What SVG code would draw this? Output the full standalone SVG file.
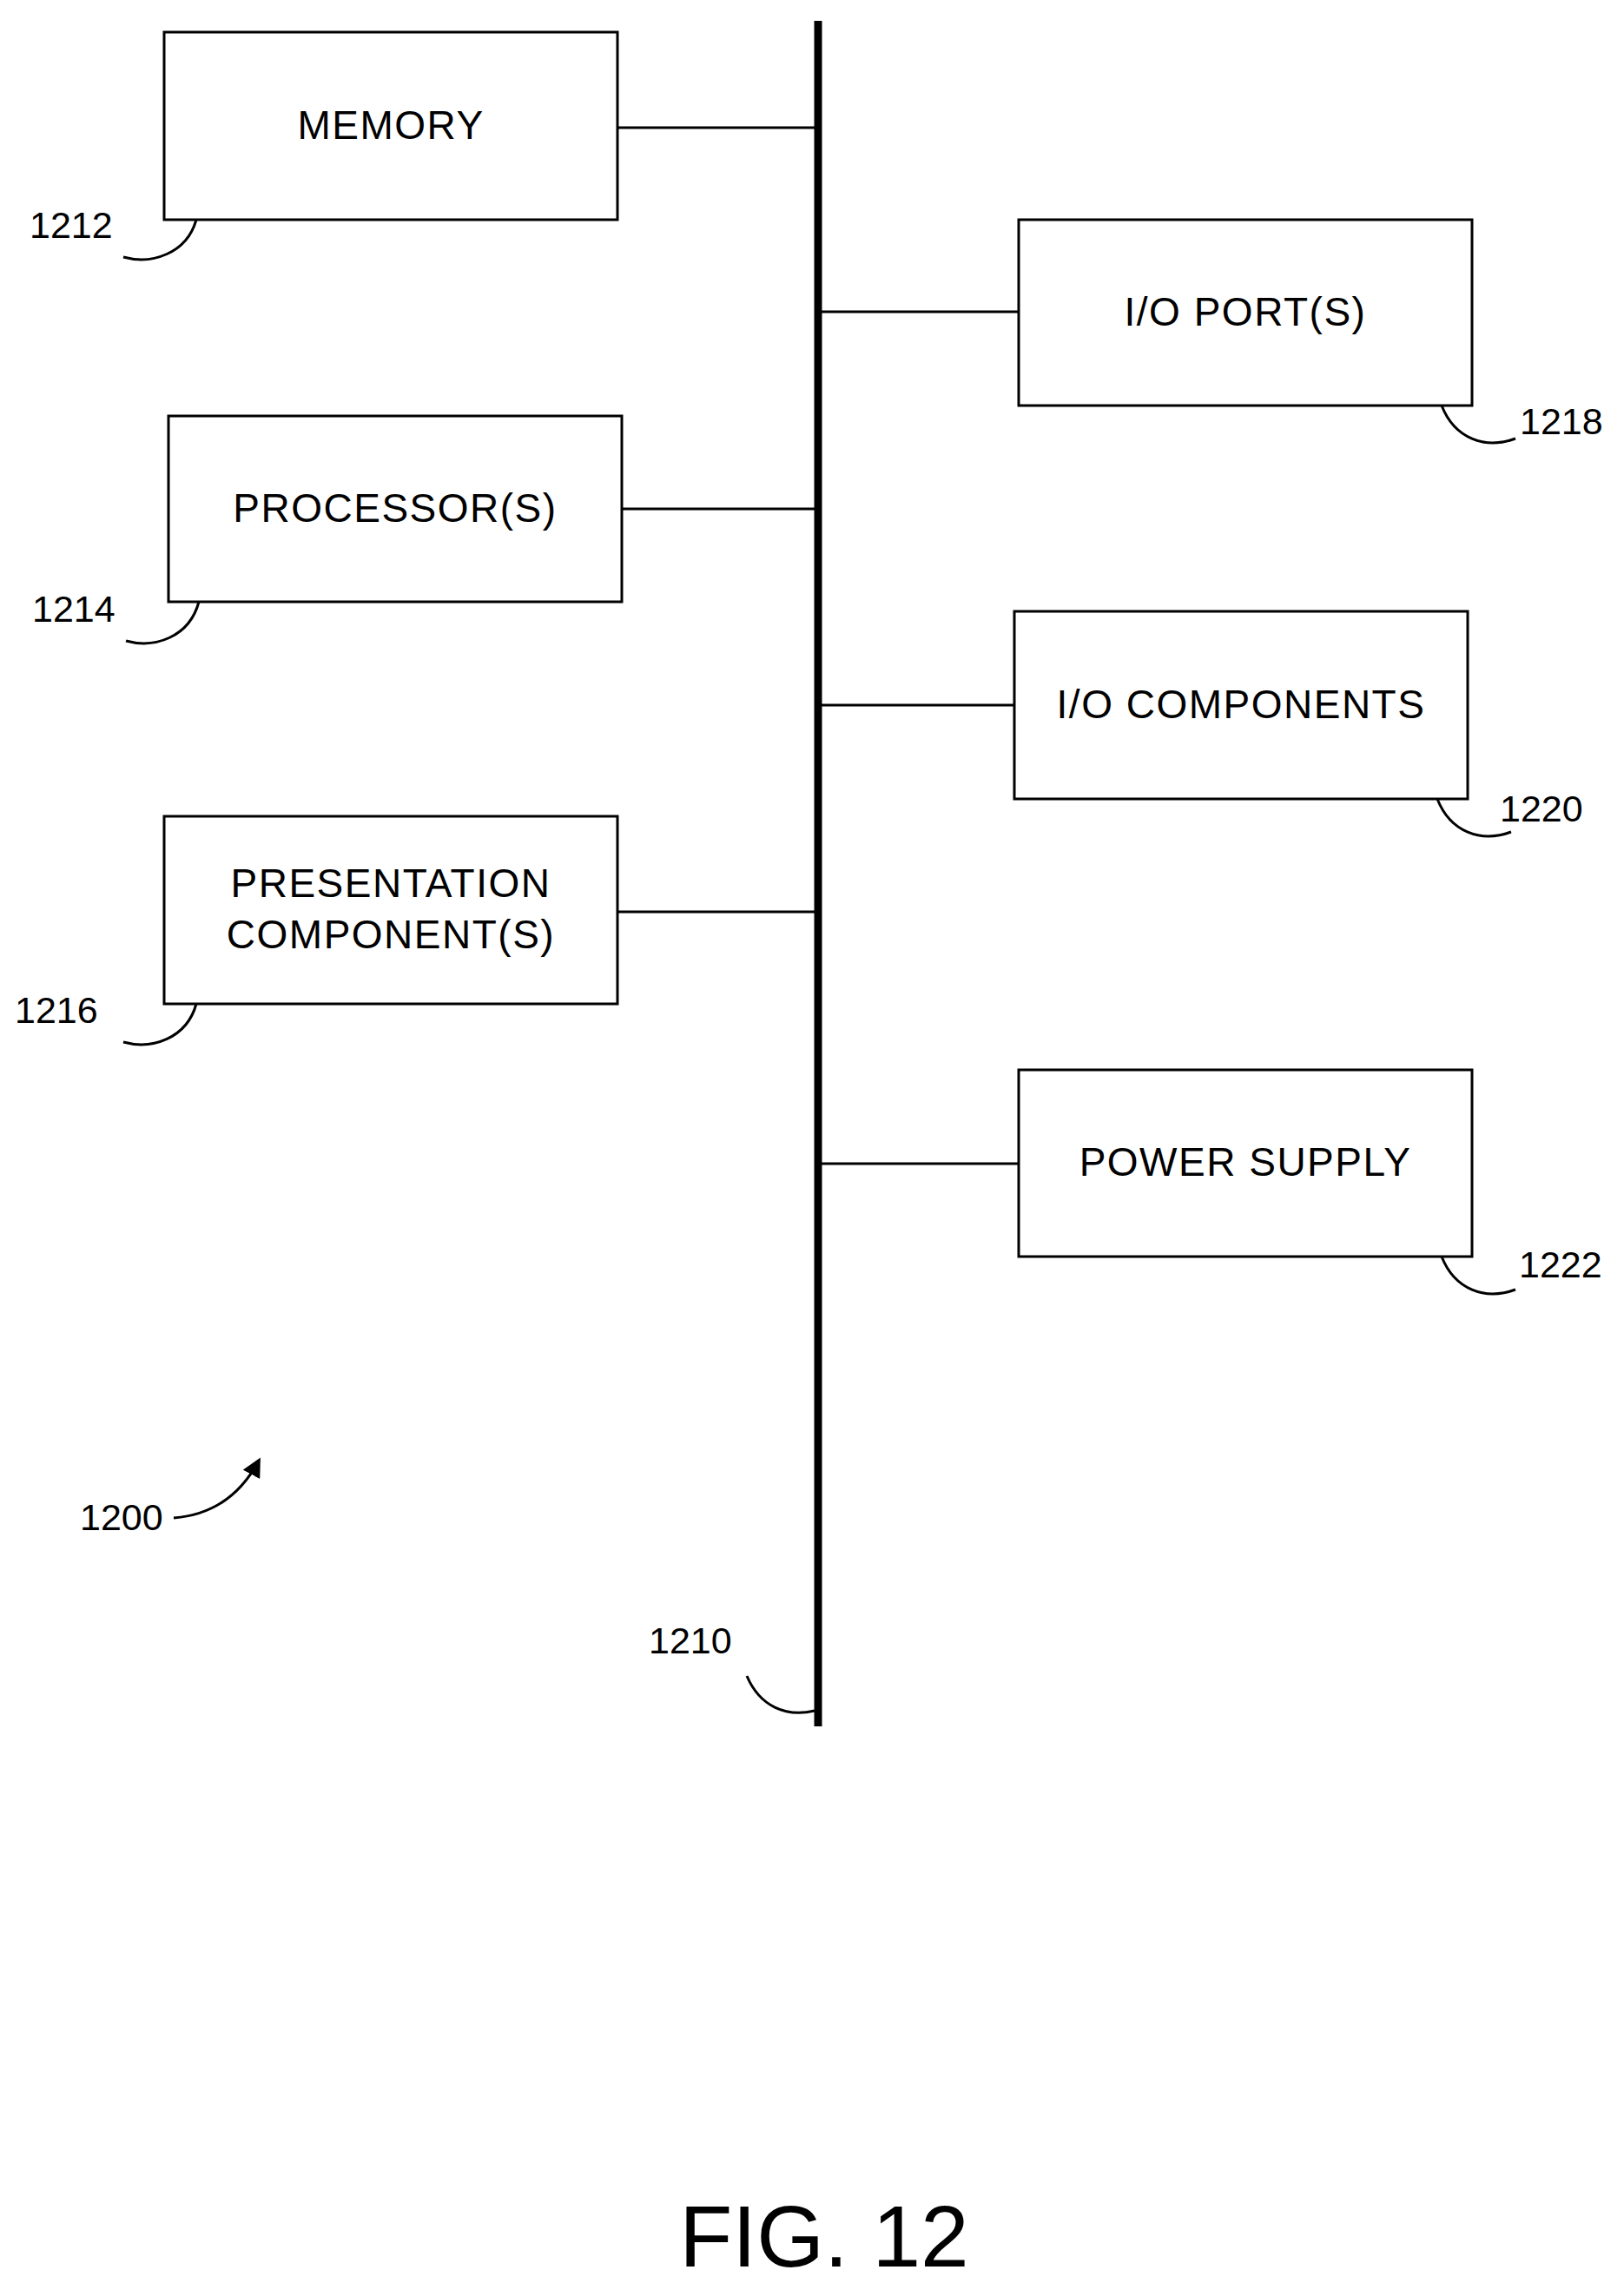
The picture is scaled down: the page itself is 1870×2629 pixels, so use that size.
<svg xmlns="http://www.w3.org/2000/svg" width="1870" height="2629" viewBox="0 0 1870 2629">
<style>
.box{fill:#fff;stroke:#000;stroke-width:3}
.t{font-family:"Liberation Sans",Arial,sans-serif;font-size:46px;letter-spacing:1.5px;text-anchor:middle}
.n{font-family:"Liberation Sans",Arial,sans-serif;font-size:43px}
.c{fill:none;stroke:#000;stroke-width:3}
</style>
<defs><marker id="ah" markerWidth="22" markerHeight="22" refX="18" refY="11" orient="auto" markerUnits="userSpaceOnUse" viewBox="0 0 22 22"><path d="M0,0 L22,11 L0,22 z"/></marker></defs>
<rect width="1870" height="2629" fill="#fff"/>
<g id="connectors">
<line x1="942" y1="24" x2="942" y2="1988" stroke="#000" stroke-width="9"/>
<line class="c" x1="711" y1="147" x2="942" y2="147"/>
<line class="c" x1="716" y1="586" x2="942" y2="586"/>
<line class="c" x1="711" y1="1050" x2="942" y2="1050"/>
<line class="c" x1="942" y1="359" x2="1173" y2="359"/>
<line class="c" x1="942" y1="812" x2="1168" y2="812"/>
<line class="c" x1="942" y1="1340" x2="1173" y2="1340"/>
</g>
<g id="memory"><rect class="box" x="189" y="37" width="522" height="216"/><text class="t" x="450" y="160">MEMORY</text>
<text class="n" x="34" y="274">1212</text><path class="c" d="M142,296 C175,305 215,292 226,253"/></g>
<g id="processor"><rect class="box" x="194" y="479" width="522" height="214"/><text class="t" x="455" y="601">PROCESSOR(S)</text>
<text class="n" x="37" y="716">1214</text><path class="c" d="M145,738 C178,747 218,734 229,693"/></g>
<g id="presentation"><rect class="box" x="189" y="940" width="522" height="216"/><text class="t" x="450" y="1033">PRESENTATION</text><text class="t" x="450" y="1092">COMPONENT(S)</text>
<text class="n" x="17" y="1178">1216</text><path class="c" d="M142,1200 C175,1209 215,1196 226,1156"/></g>
<g id="ioport"><rect class="box" x="1173" y="253" width="522" height="214"/><text class="t" x="1434" y="375">I/O PORT(S)</text>
<text class="n" x="1750" y="500">1218</text><path class="c" d="M1660,467 C1675,505 1710,518 1745,505"/></g>
<g id="iocomp"><rect class="box" x="1168" y="704" width="522" height="216"/><text class="t" x="1429" y="827">I/O COMPONENTS</text>
<text class="n" x="1727" y="946">1220</text><path class="c" d="M1655,920 C1670,958 1705,971 1740,958"/></g>
<g id="power"><rect class="box" x="1173" y="1232" width="522" height="215"/><text class="t" x="1434" y="1354">POWER SUPPLY</text>
<text class="n" x="1749" y="1471">1222</text><path class="c" d="M1660,1447 C1675,1485 1710,1498 1745,1485"/></g>
<g id="label1200"><text class="n" x="92" y="1762">1200</text><path class="c" d="M200,1748 C240,1745 275,1725 298,1682" marker-end="url(#ah)"/></g>
<g id="label1210"><text class="n" x="747" y="1904">1210</text><path class="c" d="M860,1930 C875,1965 905,1978 938,1970"/></g>
<text x="949" y="2610" font-family="'Liberation Sans',Arial,sans-serif" font-size="100" text-anchor="middle">FIG. 12</text>
</svg>
